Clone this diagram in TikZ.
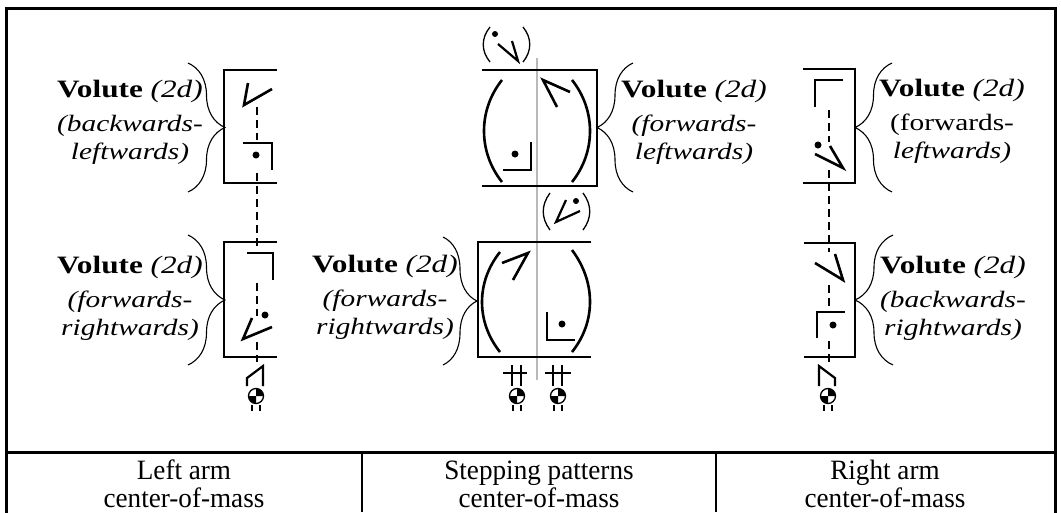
\documentclass[tikz,border=0pt]{standalone}
\usepackage{fontspec}
\setmainfont{Liberation Serif}
\newfontfamily\etiqfont[FakeStretch=1.25]{Liberation Serif}
\newfontfamily\titrefont[FakeStretch=0.97]{Liberation Serif}
\usetikzlibrary{decorations.pathreplacing}

\tikzset{
  cadre/.style={line width=3pt},
  boite/.style={line width=1.3pt},
  signe/.style={line width=2.6pt},
  portee/.style={line width=1.3pt, dash pattern=on 8pt off 5pt},
  accolade/.style={decorate, decoration={brace, amplitude=#1}, line width=1.1pt},
  voluteA/.style={anchor=base, inner sep=0pt, font=\etiqfont\fontsize{25}{25}\selectfont},
  voluteB/.style={anchor=base, inner sep=0pt, font=\etiqfont\fontsize{23.5}{23.5}\selectfont\itshape},
  titre/.style={anchor=base, inner sep=0pt, font=\titrefont\fontsize{28}{28}\selectfont},
}

% etiquette : nom, x, y, ligne 2, ligne 3
\newcommand{\volute}[5]{%
  \node[voluteA] (#1) at (#2,#3) {\textbf{Volute} \textit{(2d)}};
  \node[voluteB] (#1b) at (#2,#3+34) {#4};
  \node[voluteB] (#1c) at (#2,#3+62) {#5};
}
% centre de gravite
\newcommand{\cdm}[2]{%
  \fill (#1,#2) -- ++(7.5pt,0pt) arc[start angle=0, end angle=90, radius=7.5pt] -- cycle;
  \fill (#1,#2) -- ++(-7.5pt,0pt) arc[start angle=180, end angle=270, radius=7.5pt] -- cycle;
  \draw[line width=1.3pt] (#1,#2) circle[radius=7.5pt];
  \draw[line width=1.8pt] (#1-4,#2+9) -- (#1-4,#2+15) (#1+4,#2+9) -- (#1+4,#2+15);
}

\begin{document}
\begin{tikzpicture}[x=1pt, y=-1pt]
    \useasboundingbox (0,0) rectangle (1061,512);
    % Cadre et tableau
    \draw[cadre] (6,8) rectangle (1055,518);
    \draw[cadre] (6,452) -- (1055,452);
    \draw[line width=1.5pt] (362,452) -- (362,512) (716,452) -- (716,512);

    % Bras gauche
    \draw[boite] (277,70) -- (224,70) -- (224,183) -- (277,183);
    \draw[boite] (277,242) -- (224,242) -- (224,357) -- (277,357);
    \draw[portee] (257,107) -- (257,140) (257,173) -- (257,250) (257,283) -- (257,316) (257,342) -- (257,362);
    \draw[signe] (248,83) -- (244,105) -- (272,89);
    \draw[signe] (243,143) -- (272,143) -- (272,170);
    \fill (256,155) circle[radius=3.5pt];
    \draw[signe] (247,253) -- (273,253) -- (273,280);
    \draw[signe] (252,318) -- (243,339) -- (272,327);
    \fill (265,315) circle[radius=3.5pt];
    \draw[line width=2.2pt] (247,386) -- (247,378) -- (263,366) -- (263,386);
    \cdm{256}{396}
    \draw[accolade=37pt] (188,63) -- (188,192);
    \draw[accolade=37pt] (188,235) -- (188,365);
    \volute{vg1}{130}{97}{(backwards-}{leftwards)}
    \volute{vg2}{130}{273}{(forwards-}{rightwards)}

    % Pas (milieu)
    \draw[line width=1.2pt, gray!55] (537,58) -- (537,380);
    \draw[boite] (482,70) -- (597,70) -- (597,186) -- (482,186);
    \draw[boite] (591,242) -- (478,242) -- (478,357) -- (591,357);
    \draw[boite] (490,27) .. controls (481,38) and (481,51) .. (490,62);
    \draw[boite] (523,27) .. controls (532,38) and (532,51) .. (523,62);
    \draw[line width=2.2pt] (498,44) -- (518,61) -- (512,41);
    \fill (495,34) circle[radius=3pt];
    \draw[signe] (502,80) .. controls (478,110) and (478,152) .. (502,182);
    \draw[signe] (572,80) .. controls (596,110) and (596,152) .. (572,182);
    \draw[signe] (503,170) -- (531,170) -- (531,142);
    \fill (515,154) circle[radius=3.5pt];
    \draw[signe] (557,107) -- (543,80) -- (570,92);
    \draw[boite] (550,193) .. controls (541,205) and (541,218) .. (550,230);
    \draw[boite] (583,193) .. controls (592,205) and (592,218) .. (583,230);
    \draw[line width=2.2pt] (566,200) -- (556,222) -- (580,211);
    \fill (576,201) circle[radius=3pt];
    \draw[signe] (500,252) .. controls (476,282) and (476,322) .. (500,352);
    \draw[signe] (572,250) .. controls (596,282) and (596,322) .. (572,352);
    \draw[signe] (502,263) -- (528,253) -- (513,280);
    \draw[signe] (547,312) -- (547,340) -- (575,340);
    \fill (562,324) circle[radius=3.5pt];
    \draw[line width=2.2pt] (503,373) -- (527,373) (512,365) -- (512,386) (521,365) -- (521,386);
    \cdm{517}{396}
    \draw[line width=2.2pt] (545,373) -- (571,373) (553,365) -- (553,386) (562,365) -- (562,386);
    \cdm{558}{396}
    \draw[accolade=36pt] (633,192) -- (633,63);
    \draw[accolade=34pt] (443,237) -- (443,365);
    \volute{vm1}{694}{97}{(forwards-}{leftwards)}
    \volute{vm2}{385}{272}{(forwards-}{rightwards)}

    % Bras droit
    \draw[boite] (803,69) -- (855,69) -- (855,183) -- (803,183);
    \draw[boite] (804,243) -- (855,243) -- (855,357) -- (804,357);
    \draw[portee] (829,110) -- (829,142) (829,170) -- (829,252) (829,285) -- (829,310) (829,341) -- (829,362);
    \draw[signe] (815,107) -- (815,80) -- (843,80);
    \draw[signe] (815,154) -- (843,168) -- (830,146);
    \fill (818,145) circle[radius=3.5pt];
    \draw[signe] (815,263) -- (843,280) -- (835,254);
    \draw[signe] (817,338) -- (817,312) -- (845,312);
    \fill (833,325) circle[radius=3.5pt];
    \draw[line width=2.2pt] (835,386) -- (835,378) -- (819,366) -- (819,386);
    \cdm{828}{396}
    \draw[accolade=37pt] (892,192) -- (892,63);
    \draw[accolade=38pt] (893,365) -- (893,235);
    \volute{vd1}{952}{96}{\upshape (forwards-}{leftwards)}
    \volute{vd2}{953}{273}{(backwards-}{rightwards)}

    % Legendes
    \node[titre] (tg1) at (184,479) {Left arm};
    \node[titre] (tg2) at (184,507) {center-of-mass};
    \node[titre] (tm1) at (539,479) {Stepping patterns};
    \node[titre] (tm2) at (539,507) {center-of-mass};
    \node[titre] (td1) at (885,479) {Right arm};
    \node[titre] (td2) at (885,507) {center-of-mass};
\end{tikzpicture}
\end{document}
